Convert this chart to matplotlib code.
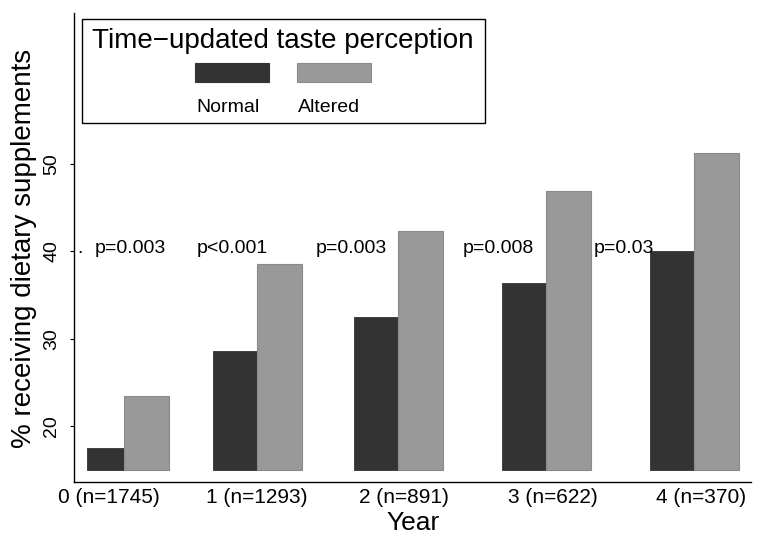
import matplotlib
matplotlib.use("Agg")
import matplotlib.pyplot as plt
from matplotlib.patches import Rectangle

plt.rcParams['font.family'] = ['Liberation Sans', 'DejaVu Sans']

# ---- data ----
year_labels = ["0 (n=1745)", "1 (n=1293)", "2 (n=891)", "3 (n=622)", "4 (n=370)"]
normal = [17.5, 28.6, 32.5, 36.4, 40.0]
altered = [23.4, 38.6, 42.3, 46.9, 51.3]
p_labels = ["p=0.003", "p<0.001", "p=0.003", "p=0.008", "p=0.03"]
series_names = ["Normal", "Altered"]
y_ticks = [20, 30, 40, 50]
baseline = 15

# ---- layout (pixel-like units along x) ----
W, H = 764, 543
group_x = [124, 257, 398, 546, 694]
label_x = [109, 257, 404, 553, 701]
p_x = [95, 197, 316, 463, 594]
bar_w = 44.5
normal_w = [37, bar_w, bar_w, bar_w, bar_w]
dark = "#333333"
light = "#999999"

fig = plt.figure(figsize=(W / 100, H / 100), dpi=100)
fx = lambda x: x / W
fy = lambda y: 1 - y / H
ax = fig.add_axes([fx(74), fy(482), fx(751) - fx(74), fy(13) - fy(482)])

ax.bar(group_x, [v - baseline for v in normal], bottom=baseline,
       width=[-w for w in normal_w], align="edge",
       color=dark, edgecolor=dark, linewidth=0.6)
ax.bar(group_x, [v - baseline for v in altered], bottom=baseline,
       width=bar_w, align="edge",
       color=light, edgecolor="#8a8a8a", linewidth=0.8)

for x, t in zip(p_x, p_labels):
    ax.text(x, 39.8, t, ha="left", va="baseline", fontsize=14, zorder=5)
ax.text(80, 39.8, ".", ha="center", va="baseline", fontsize=14)

ax.set_xlim(74, 751)
ax.set_ylim(13.6, 67.3)
ax.set_yticks(y_ticks)
ax.set_yticklabels([str(v) for v in y_ticks], rotation=90, va="center", fontsize=14)
ax.set_xticks(label_x)
ax.set_xticklabels(year_labels, fontsize=15)
ax.tick_params(axis="x", length=0, pad=4.3)
ax.tick_params(axis="y", length=3, width=0.8, pad=7)
for s in ["top", "right"]:
    ax.spines[s].set_visible(False)
for s in ["left", "bottom"]:
    ax.spines[s].set_linewidth(1.0)

# legend (Stata style)
fig.patches.append(Rectangle((fx(82), fy(123)), fx(485) - fx(82), fy(19) - fy(123),
                             transform=fig.transFigure, fill=False,
                             edgecolor="black", linewidth=1.0))
fig.text(fx(282.5), fy(48), "Time\u2212updated taste perception", ha="center",
         va="baseline", fontsize=20)
for left, col, ec, name in [(195, dark, dark, series_names[0]),
                            (297, light, "#8a8a8a", series_names[1])]:
    fig.patches.append(Rectangle((fx(left), fy(82)), fx(74), fy(0) - fy(19),
                                 transform=fig.transFigure, facecolor=col,
                                 edgecolor=ec, linewidth=0.8))
    fig.text(fx(left + 1), fy(112), name, ha="left", va="baseline", fontsize=14)

fig.text(fx(24), fy(248), "% receiving dietary supplements", rotation=90,
         ha="center", va="center", fontsize=20)
fig.text(fx(413), fy(530), "Year", ha="center", va="baseline", fontsize=19)

fig.savefig("out.png", dpi=100)
